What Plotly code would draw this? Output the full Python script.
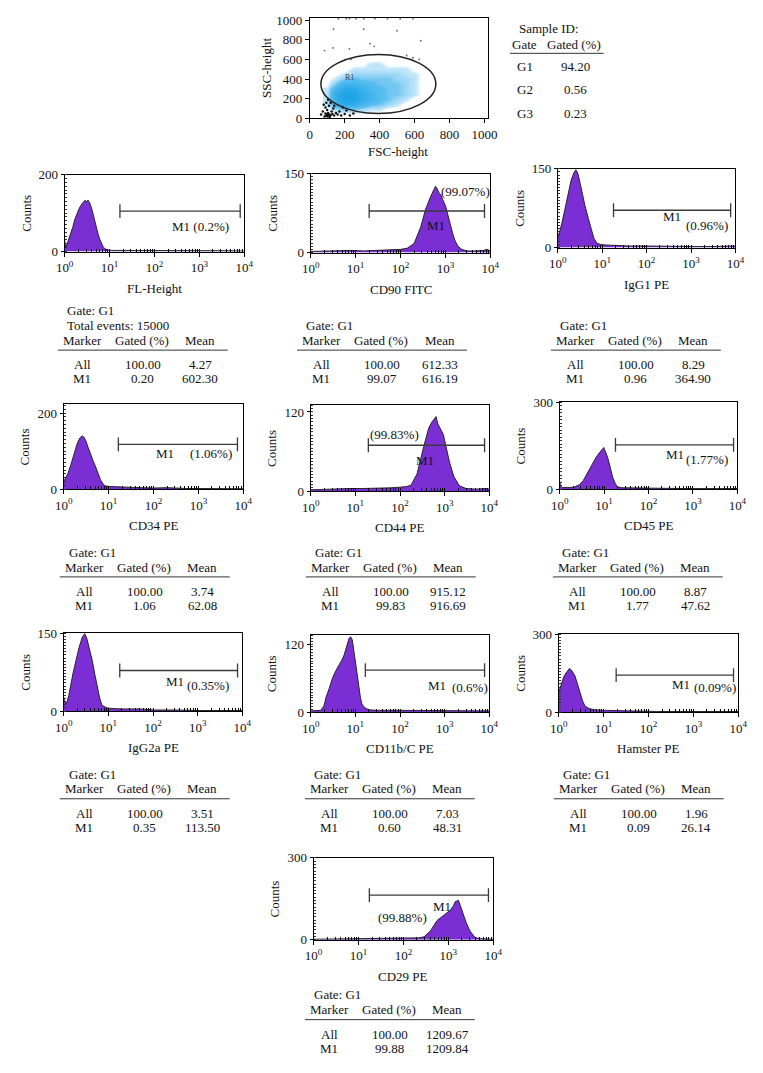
import math
import plotly.graph_objects as go

W, H = 763, 1073
FONT = "Liberation Serif"
PURPLE = "#7a2ed4"
INK = "#111111"

# ---------------- data: scatter (FSC / SSC) ----------------
fsc_bins = [100, 150, 200, 250, 300, 350, 400, 450, 500, 550, 600, 650, 700]
ssc_bins = [50, 100, 150, 200, 250, 300, 350, 400, 450, 500, 550, 600]
cloud_density = [
    [0, 0, 0, 0, 0, 0, 0, 0, 0, 0, 0, 0, 0],
    [0, 2, 3, 3, 2, 1, 1, 0, 0, 0, 0, 0, 0],
    [1, 6, 9, 8, 6, 4, 3, 2, 1, 0, 0, 0, 0],
    [1, 8, 10, 10, 8, 6, 4, 3, 2, 1, 0, 0, 0],
    [1, 8, 10, 10, 8, 6, 4, 3, 3, 2, 1, 0, 0],
    [1, 6, 9, 9, 7, 5, 4, 3, 3, 2, 1, 0, 0],
    [0, 3, 6, 6, 5, 4, 3, 3, 3, 2, 1, 0, 0],
    [0, 1, 3, 4, 3, 3, 3, 3, 2, 2, 1, 0, 0],
    [0, 0, 1, 2, 2, 2, 2, 2, 2, 1, 1, 0, 0],
    [0, 0, 0, 1, 1, 1, 1, 1, 1, 1, 0, 0, 0],
    [0, 0, 0, 0, 0, 1, 1, 0, 0, 0, 0, 0, 0],
    [0, 0, 0, 0, 0, 0, 0, 0, 0, 0, 0, 0, 0],
]
debris_fsc = [100, 95, 110, 105, 120, 90, 130, 115, 85, 140, 150, 160, 125, 100, 90, 110, 135,
              170, 180, 200, 210, 95, 105, 80, 120, 140, 75, 65, 230, 250, 190, 98, 108, 112, 102]
debris_ssc = [40, 30, 25, 55, 35, 50, 45, 15, 20, 30, 55, 40, 70, 85, 110, 130, 100,
              70, 30, 45, 80, 160, 190, 140, 160, 130, 70, 40, 30, 50, 110, 35, 45, 28, 20]
sparse_fsc = [136, 309, 500, 636, 345, 369, 85, 133, 227, 236, 555, 591, 627,
              164, 209, 227, 264, 309, 373, 445, 518, 591]
sparse_ssc = [907, 907, 893, 790, 760, 733, 690, 717, 707, 600, 640, 617, 600,
              1015, 1015, 1015, 1015, 1015, 1015, 1015, 1015, 1015]
r1_gate = [64, 722, 50, 650]  # FSC min, FSC max, SSC min, SSC max
gate_names = ["G1", "G2", "G3"]
gate_pct = ["94.20", "0.56", "0.23"]

# ---------------- data: histograms ----------------
fl_x = [1.0, 1.05, 1.12, 1.2, 1.35, 1.5, 1.7, 1.9, 2.1, 2.3, 2.5, 2.7, 2.9, 3.1, 3.3, 3.6, 4.0, 4.4,
        4.8, 5.3, 5.9, 6.5, 7.2, 8.0, 9.0, 11, 15, 25, 50, 100, 200, 400, 700, 1000, 2000, 5000, 10000]
fl_y = [30, 12, 18, 28, 45, 62, 85, 100, 112, 120, 126, 131, 133, 129, 134, 127, 112, 95,
        75, 55, 35, 22, 12, 7, 4, 3, 3, 2, 2, 2, 2, 3, 2, 2, 2, 2, 1]
cd90_x = [1, 2, 4, 8, 15, 30, 60, 100, 140, 200, 280, 360, 470, 540, 600, 650, 700, 780, 880, 1000,
          1130, 1260, 1450, 1630, 1900, 2300, 3000, 4500, 7000, 8500, 10000]
cd90_y = [2, 3, 3, 4, 3, 4, 4, 6, 8, 17, 48, 82, 107, 118, 126, 122, 115, 110, 100, 89,
          72, 54, 36, 23, 12, 6, 3, 3, 4, 6, 3]
igg1_x = [1, 1.1, 1.25, 1.45, 1.7, 2.0, 2.3, 2.55, 2.7, 2.9, 3.2, 3.6, 4.1, 4.9, 5.6, 6.5, 7.5, 9,
          12, 20, 40, 100, 300, 1000, 3000, 10000]
igg1_y = [20, 30, 48, 75, 105, 128, 142, 148, 145, 138, 122, 100, 80, 55, 35, 18, 9, 6,
          5, 4, 3, 3, 2, 2, 2, 3]
cd34_x = [1, 1.1, 1.25, 1.45, 1.7, 2.0, 2.3, 2.6, 2.8, 3.1, 3.5, 4.0, 4.5, 5.1, 5.8, 6.6, 7.8, 9,
          11, 15, 25, 50, 100, 200, 500, 1000, 3000, 10000]
cd34_y = [20, 28, 42, 65, 95, 120, 135, 140, 137, 128, 110, 90, 75, 60, 42, 25, 11, 8,
          7, 6, 5, 4, 3, 4, 2, 2, 2, 1]
cd44_x = [1, 2, 4, 8, 15, 30, 60, 100, 140, 175, 240, 340, 440, 520, 600, 640, 700, 800, 930,
          1050, 1290, 1600, 2140, 3000, 5000, 8000, 10000]
cd44_y = [2, 3, 3, 4, 4, 4, 5, 6, 7, 9, 26, 68, 96, 105, 110, 113, 102, 95, 86,
          70, 43, 22, 8, 4, 3, 4, 3]
cd45_x = [1, 1.05, 1.15, 1.4, 1.8, 2.2, 2.8, 3.4, 4.0, 4.7, 5.6, 6.6, 7.5, 8.5, 9.8, 11, 12, 13.5,
          15.5, 18, 20, 25, 40, 80, 200, 1000, 5000, 10000]
cd45_y = [28, 10, 6, 5, 6, 8, 16, 30, 50, 70, 92, 110, 122, 132, 144, 125, 110, 80,
          42, 18, 8, 5, 4, 3, 3, 2, 2, 2]
igg2a_x = [1, 1.05, 1.15, 1.3, 1.6, 1.9, 2.2, 2.6, 2.96, 3.3, 3.8, 4.4, 5.0, 5.6, 6.4, 7.2, 8.2,
           9.3, 12, 20, 50, 100, 300, 1000, 10000]
igg2a_y = [27, 18, 14, 30, 71, 100, 122, 142, 149, 140, 120, 96, 70, 46, 25, 11, 8,
           6, 5, 4, 4, 2, 2, 1, 1]
cd11_x = [1, 1.3, 1.7, 2.0, 2.2, 2.6, 3.1, 3.7, 4.4, 5.0, 5.6, 6.4, 7.2, 7.8, 8.5, 9.3, 10.5, 12,
          13, 14, 16, 19.7, 30, 60, 100, 300, 1000, 10000]
cd11_y = [2, 2, 3, 12, 26, 42, 61, 74, 84, 92, 101, 115, 130, 133, 128, 107, 75, 43,
          25, 14, 8, 4, 3, 3, 3, 2, 2, 2]
ham_x = [1, 1.1, 1.29, 1.45, 1.6, 1.74, 1.95, 2.1, 2.3, 2.6, 3.0, 3.4, 3.8, 4.3, 4.9, 6, 8, 12,
         20, 30, 60, 150, 1000, 10000]
ham_y = [76, 100, 135, 150, 160, 168, 160, 150, 139, 110, 70, 42, 25, 17, 13, 9, 7, 6,
         5, 4, 3, 2, 2, 2]
cd29_x = [1, 3, 10, 30, 80, 150, 220, 288, 400, 560, 790, 1100, 1300, 1410, 1550, 1670, 1850,
          2140, 2500, 3000, 3870, 5000, 7000, 10000]
cd29_y = [2, 3, 3, 4, 4, 5, 7, 11, 33, 71, 89, 108, 125, 139, 142, 145, 125,
          95, 62, 33, 9, 4, 3, 2]

x_titles = ["FL-Height", "CD90 FITC", "IgG1 PE", "CD34 PE", "CD44 PE", "CD45 PE",
            "IgG2a PE", "CD11b/C PE", "Hamster PE", "CD29 PE"]
y_ticks = [200, 150, 150, 200, 120, 300, 150, 120, 300, 300]
m1_lo = [17, 20, 18, 16.5, 19.5, 18, 18, 16.7, 19, 17.4]
m1_hi = [8100, 7400, 7800, 7400, 7800, 8200, 7800, 7800, 7800, 7800]
m1_level = [105, 79, 71, 118, 69.5, 153, 78, 74, 142, 164]
m1_pct = ["(0.2%)", "(99.07%)", "(0.96%)", "(1.06%)", "(99.83%)", "(1.77%)",
          "(0.35%)", "(0.6%)", "(0.09%)", "(99.88%)"]
all_gated = ["100.00"] * 10
all_mean = ["4.27", "612.33", "8.29", "3.74", "915.12", "8.87", "3.51", "7.03", "1.96", "1209.67"]
m1_gated = ["0.20", "99.07", "0.96", "1.06", "99.83", "1.77", "0.35", "0.60", "0.09", "99.88"]
m1_mean = ["602.30", "616.19", "364.90", "62.08", "916.69", "47.62", "113.50", "48.31",
           "26.14", "1209.84"]
total_events = "15000"

hist_x = [fl_x, cd90_x, igg1_x, cd34_x, cd44_x, cd45_x, igg2a_x, cd11_x, ham_x, cd29_x]
hist_y = [fl_y, cd90_y, igg1_y, cd34_y, cd44_y, cd45_y, igg2a_y, cd11_y, ham_y, cd29_y]

# ---------------- layout (pixels) ----------------
boxes = [(57, 170, 241, 248), (309, 169, 493, 249), (562, 164, 744, 244),
         (56, 403, 240, 489), (309, 404, 492, 491), (564, 401, 746, 489),
         (56, 635, 239, 714), (309, 637, 492, 715), (563, 636, 747, 715),
         (312, 863, 496, 946)]
y_top = [200, 150, 150, 223, 130, 300, 150, 136, 300, 300]
y_minor = [10, 6, 6, 10, 5, 12, 6, 5, 12, 12]
label_pos = [
    [("b", 196, 223)],
    [("p", 468, 187), ("m", 437, 222)],
    [("m", 679, 212), ("p", 715, 222)],
    [("m", 160, 453), ("p", 207, 453)],
    [("p", 395, 434), ("m", 426, 460)],
    [("m", 682, 454), ("p", 715, 459)],
    [("m", 170, 684), ("p", 204, 688)],
    [("m", 438, 688), ("p", 472, 690)],
    [("m", 688, 687), ("p", 723, 690)],
    [("m", 443, 912), ("p", 403, 923)],
]
table_left = [50, 295, 555, 52, 304, 557, 52, 303, 558, 303]
table_gate_y = [308, 323, 323, 553, 553, 553, 778, 778, 778, 1002]

annotations = []
shapes = []
TS = 13  # text size


def px(x):
    return x / W


def py(y):
    return 1 - y / H


def text(x, y, s, anchor="center", size=TS, angle=0, color=INK):
    annotations.append(dict(x=px(x), y=py(y), xref="paper", yref="paper", text=s,
                            showarrow=False, xanchor=anchor, yanchor="middle",
                            textangle=angle, font=dict(family=FONT, size=size, color=color)))


def hline(x0, x1, y):
    shapes.append(dict(type="line", xref="paper", yref="paper", x0=px(x0), x1=px(x1),
                       y0=py(y), y1=py(y), line=dict(color="#333333", width=1)))


fig = go.Figure()

# ---- scatter panel ----
fig.add_trace(go.Heatmap(
    x=fsc_bins, y=ssc_bins, z=cloud_density, zmin=0, zmax=10, zsmooth="best",
    colorscale=[[0, "rgba(255,255,255,0)"], [0.08, "rgba(150,212,245,0.55)"],
                [0.35, "rgb(90,190,240)"], [1, "rgb(30,165,232)"]],
    showscale=False, hoverinfo="skip", xaxis="x", yaxis="y"))
fig.add_trace(go.Scatter(x=debris_fsc, y=debris_ssc, mode="markers",
                         marker=dict(size=2.5, color="#111111"), xaxis="x", yaxis="y",
                         hoverinfo="skip"))
fig.add_trace(go.Scatter(x=sparse_fsc, y=sparse_ssc, mode="markers",
                         marker=dict(size=1.8, color="#666666"), xaxis="x", yaxis="y",
                         hoverinfo="skip"))
shapes.append(dict(type="circle", xref="x", yref="y", x0=r1_gate[0], x1=r1_gate[1],
                   y0=r1_gate[2], y1=r1_gate[3], line=dict(color="#222222", width=1.5)))
annotations.append(dict(x=227, y=417, xref="x", yref="y", text="R1", showarrow=False,
                        font=dict(family=FONT, size=8, color="#444")))

axis_common = dict(showline=True, mirror=True, linecolor="black", linewidth=1, showgrid=False,
                   zeroline=False, ticks="outside", ticklen=4, tickcolor="black",
                   tickfont=dict(family=FONT, size=13, color=INK))
sx0, sy0, sx1, sy1 = 308, 11, 491, 113
layout_axes = {}
layout_axes["xaxis"] = dict(axis_common, domain=[px(sx0), px(sx1)], range=[0, 1023],
                            tickvals=[0, 200, 400, 600, 800, 1000], anchor="y")
layout_axes["yaxis"] = dict(axis_common, domain=[py(sy1), py(sy0)], range=[0, 1023],
                            tickvals=[0, 200, 400, 600, 800, 1000], anchor="x")
text(398, 147, "FSC-height")
text(263, 62, "SSC-height", angle=-90)

# gate table
text(520, 22, "Sample ID:", anchor="left")
text(513, 38, "Gate", anchor="left")
text(579, 38, "Gated (%)")
hline(513, 609, 47)
for k, (g, p) in enumerate(zip(gate_names, gate_pct)):
    yy = 60 + k * 24
    text(528, yy, g)
    text(580, yy, p)

# ---- histogram panels ----
for i in range(10):
    ax = i + 2
    x0, y0, x1, y1 = boxes[i]
    fig.add_trace(go.Scatter(x=hist_x[i], y=hist_y[i], mode="lines", fill="tozeroy",
                             fillcolor=PURPLE, line=dict(color="#1a1a1a", width=0.9),
                             xaxis=f"x{ax}", yaxis=f"y{ax}", hoverinfo="skip"))
    cap = 7.0 / (y1 - y0) * y_top[i]
    lo, hi, lv = m1_lo[i], m1_hi[i], m1_level[i]
    fig.add_trace(go.Scatter(x=[lo, lo, None, lo, hi, None, hi, hi],
                             y=[lv - cap, lv + cap, None, lv, lv, None, lv - cap, lv + cap],
                             mode="lines", line=dict(color="#3a3a3a", width=1.3),
                             xaxis=f"x{ax}", yaxis=f"y{ax}", hoverinfo="skip"))
    layout_axes[f"xaxis{ax}"] = dict(
        axis_common, domain=[px(x0), px(x1)], type="log", range=[0, 4],
        tickvals=[1, 10, 100, 1000, 10000],
        ticktext=["10<sup>0</sup>", "10<sup>1</sup>", "10<sup>2</sup>", "10<sup>3</sup>",
                  "10<sup>4</sup>"],
        minor=dict(ticks="inside", ticklen=3, dtick="D1", tickcolor="black", showgrid=False),
        anchor=f"y{ax}")
    layout_axes[f"yaxis{ax}"] = dict(
        axis_common, domain=[py(y1), py(y0)], range=[0, y_top[i]], tickmode="linear",
        tick0=0, dtick=y_ticks[i], ticklen=3,
        minor=dict(ticks="inside", ticklen=2, dtick=y_minor[i], tick0=0, tickcolor="#333",
                   showgrid=False),
        anchor=f"x{ax}")
    text((x0 + x1) / 2, y1 + 37, x_titles[i])
    text(x0 - 40, (y0 + y1) / 2, "Counts", angle=-90)
    for which, lx, ly in label_pos[i]:
        s = {"b": "M1 " + m1_pct[i], "m": "M1", "p": m1_pct[i]}[which]
        text(lx, ly, s)
    L = table_left[i]
    gy = table_gate_y[i]
    text(L + 7, gy, "Gate: G1", anchor="left")
    if i == 0:
        gy += 15
        text(L + 7, gy, "Total events: " + total_events, anchor="left")
    text(L + 25, gy + 15, "Marker")
    text(L + 86, gy + 15, "Gated (%)")
    text(L + 146, gy + 15, "Mean")
    hline(L, L + 174, gy + 25)
    text(L + 25, gy + 40, "All")
    text(L + 87, gy + 40, all_gated[i])
    text(L + 146, gy + 40, all_mean[i])
    text(L + 25, gy + 54, "M1")
    text(L + 87, gy + 54, m1_gated[i])
    text(L + 146, gy + 54, m1_mean[i])

fig.update_layout(width=W, height=H, margin=dict(l=0, r=0, t=0, b=0),
                  paper_bgcolor="white", plot_bgcolor="white", showlegend=False,
                  annotations=annotations, shapes=shapes, **layout_axes)

fig.write_html("out.html", config={"displayModeBar": False},
               post_script="document.body.style.margin='0px';")
